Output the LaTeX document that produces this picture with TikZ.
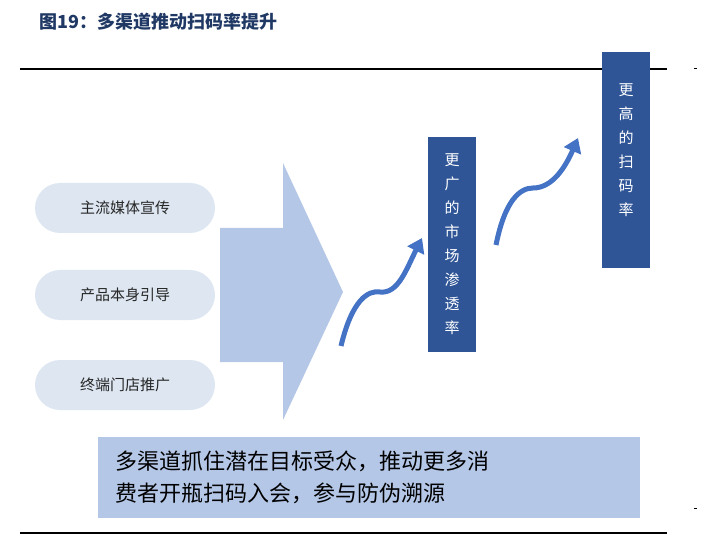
\documentclass[tikz,border=0pt]{standalone}
\usepackage{fontspec}
\setmainfont{Noto Sans CJK SC}
\usetikzlibrary{arrows.meta}
\definecolor{navy}{HTML}{1F3864}
\definecolor{lb}{HTML}{DDE6F1}
\definecolor{mb}{HTML}{B4C7E7}
\definecolor{db}{HTML}{2F5597}
\definecolor{ab}{HTML}{4472C4}
\tikzset{pill/.style={fill=lb,rounded corners=25pt,minimum width=180pt,minimum height=50pt,font=\fontsize{15}{18}\selectfont,text=black!85},
vbox/.style={fill=db,text=white,minimum width=48pt,align=center,font=\fontsize{15}{24}\selectfont},
curv/.style={draw=ab,line width=5pt,-{Triangle[length=14pt,width=18pt]}}}
\begin{document}
\begin{tikzpicture}[x=1pt,y=-1pt]
\useasboundingbox (0,0) rectangle (701,537);
\node[anchor=west,text=navy,font=\fontsize{18}{20}\selectfont\bfseries] (t) at (36,22) {图19：多渠道推动扫码率提升};
\draw[line width=2.2pt] (20,69) -- (667,69);
\draw[line width=2pt] (20,533) -- (667,533);
\draw[line width=1pt] (694,69) -- (697,69);
\draw[line width=1pt] (694,508) -- (697,508);
\node[pill] (p1) at (125,208) {主流媒体宣传};
\node[pill] (p2) at (125,295) {产品本身引导};
\node[pill] (p3) at (125,385) {终端门店推广};
\fill[mb] (220,228) -- (283,228) -- (283,163) -- (343,292) -- (283,420) -- (283,362) -- (220,362) -- cycle;
\node[vbox,minimum height=215pt] (b1) at (452,244.5) {更\\广\\的\\市\\场\\渗\\透\\率};
\node[vbox,minimum height=216pt,anchor=north] (b2) at (626,52) {};
\node[text=white,align=center,anchor=north,font=\fontsize{15}{24}\selectfont] (b2t) at (626,80) {更\\高\\的\\扫\\码\\率};
\coordinate (s1) at (341,346);
\coordinate (e1) at (422,238);
\coordinate (s2) at (496,245);
\coordinate (e2) at (578,138);
\draw[curv] (s1) .. controls (352,300) and (368,290) .. (380,292) .. controls (398,294) and (406,270) .. (e1);
\draw[curv] (s2) .. controls (505,200) and (520,188) .. (533,188) .. controls (552,188) and (565,168) .. (e2);
\node[fill=mb,minimum width=542pt,minimum height=81pt,anchor=north west,inner sep=0pt] (bt) at (98,437) {};
\node[anchor=west,align=left,font=\fontsize{22}{32}\selectfont,text=black] (btt) at (112,477) {多渠道抓住潜在目标受众，推动更多消\\费者开瓶扫码入会，参与防伪溯源};
\end{tikzpicture}
\end{document}
